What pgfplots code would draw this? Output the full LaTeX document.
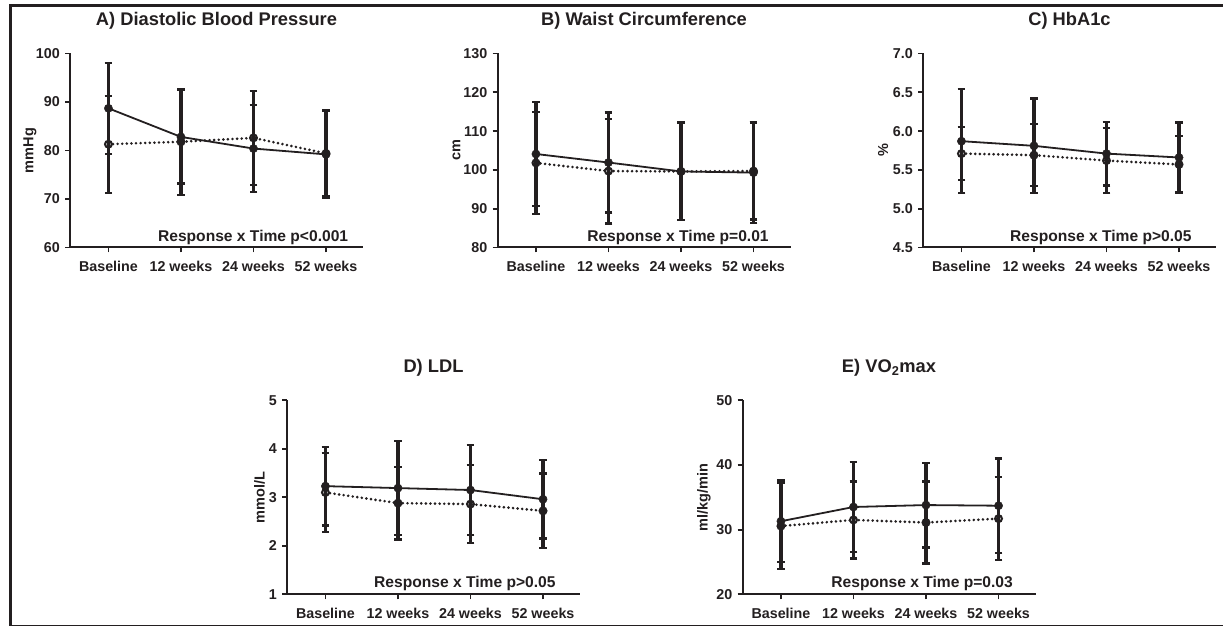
\documentclass[border=0pt]{standalone}
\usepackage{pgfplots}
\pgfplotsset{compat=1.18}
\usepackage{fontspec}
\setmainfont{Liberation Sans}
\definecolor{ink}{RGB}{35,31,32}
\tikzset{annot/.style={anchor=base, yshift=6.3pt, inner sep=0pt, text=ink, font=\bfseries\fontsize{15.6}{18}\selectfont}}
\pgfplotsset{
  panel/.style={
    scale only axis, width=293pt, height=194pt,
    xmin=-0.53, xmax=3.51, clip=false,
    axis lines=left, axis line style={-, line width=2pt, ink},
    xtick={0,1,2,3}, xticklabels={Baseline,12 weeks,24 weeks,52 weeks},
    tick align=outside, major tick length=5pt, tick style={line width=1.8pt, ink},
    /pgf/number format/assume math mode=true,
    tick label style={font=\bfseries\fontsize{14.3}{16}\selectfont, text=ink, inner sep=0pt},
    xticklabel style={anchor=base, yshift=-19pt},
    yticklabel style={anchor=east, xshift=-5pt},
    ylabel style={font=\bfseries\fontsize{14.5}{16}\selectfont, text=ink, anchor=center},
    title style={at={(0.5,1)}, anchor=base, yshift=21.8pt, font=\bfseries\fontsize{18.3}{21}\selectfont, text=ink},
  },
  solstyle/.style={ink, solid, line width=1.8pt, mark=*, mark size=4.1pt,
    mark options={fill=ink, line width=0.5pt, solid},
    error bars/.cd, y dir=both, y explicit,
    error bar style={line width=3.2pt, ink, solid, line cap=butt},
    error mark options={rotate=90, ink, solid, line width=2.2pt, mark size=3.8pt, line cap=butt}},
  dotstyle/.style={ink, line width=2.9pt, dash pattern=on 0pt off 4.6pt, line cap=round,
    mark=o, mark size=3.4pt, mark options={solid, line width=2.1pt, fill=none},
    error bars/.cd, y dir=both, y explicit,
    error bar style={line width=3.2pt, ink, solid, line cap=butt},
    error mark options={rotate=90, ink, solid, line width=2.2pt, mark size=3.8pt, line cap=butt}},
}
\begin{document}
\begin{tikzpicture}[x=1pt,y=1pt]
\useasboundingbox (0,0) rectangle (1223,626);
\draw[ink, line width=2.7pt] (10.3,-5) -- (10.3,620.3) -- (1240,620.3);
\draw[ink, line width=2.6pt] (10.3,0) -- (1240,0);

% A
\begin{axis}[panel, at={(70pt,378.5pt)}, anchor=south west,
  ymin=60, ymax=100, ytick={60,70,80,90,100},
  ylabel={mmHg}, ylabel style={at={(axis description cs:-0.1365,0.5)}},
  title={A) Diastolic Blood Pressure}]
\addplot[dotstyle] table[x index=0, y index=1, y error index=2] {
0 81.3 10.0
1 81.8 10.9
2 82.6 9.7
3 79.4 8.9
};
\addplot[solstyle] table[x index=0, y index=1, y error index=2] {
0 88.7 9.4
1 82.8 9.6
2 80.4 8.9
3 79.2 9.0
};
\node[annot] at (axis description cs:0.625,0) {Response x Time p<0.001};
\end{axis}

% B
\begin{axis}[panel, at={(497.5pt,378.5pt)}, anchor=south west,
  ymin=80, ymax=130, ytick={80,90,100,110,120,130},
  ylabel={cm}, ylabel style={at={(axis description cs:-0.14,0.5)}},
  title={B) Waist Circumference}]
\addplot[dotstyle] table[x index=0, y index=1, y error index=2] {
0 101.8 13.1
1 99.7 13.5
2 99.6 12.5
3 99.7 12.5
};
\addplot[solstyle] table[x index=0, y index=1, y error index=2] {
0 104.1 13.5
1 101.9 12.9
2 99.6 12.6
3 99.3 12.9
};
\node[annot] at (axis description cs:0.616,0) {Response x Time p=0.01};
\end{axis}

% C
\begin{axis}[panel, at={(923pt,378.5pt)}, anchor=south west,
  ymin=4.5, ymax=7.0, ytick={4.5,5.0,5.5,6.0,6.5,7.0},
  yticklabel style={/pgf/number format/.cd, fixed, fixed zerofill, precision=1},
  ylabel={\%}, ylabel style={at={(axis description cs:-0.1365,0.5)}},
  title={C) HbA1c}]
\addplot[dotstyle] table[x index=0, y index=1, y error index=2] {
0 5.71 0.34
1 5.69 0.40
2 5.62 0.42
3 5.57 0.37
};
\addplot[solstyle] table[x index=0, y index=1, y error index=2] {
0 5.87 0.67
1 5.81 0.61
2 5.71 0.41
3 5.66 0.45
};
\node[annot] at (axis description cs:0.607,0) {Response x Time p>0.05};
\end{axis}

% D
\begin{axis}[panel, at={(287pt,31.7pt)}, anchor=south west,
  ymin=1, ymax=5, ytick={1,2,3,4,5},
  ylabel={mmol/L}, ylabel style={at={(axis description cs:-0.094,0.5)}},
  title={D) LDL}]
\addplot[dotstyle] table[x index=0, y index=1, y error index=2] {
0 3.10 0.82
1 2.88 0.75
2 2.86 0.81
3 2.72 0.77
};
\addplot[solstyle] table[x index=0, y index=1, y error index=2] {
0 3.23 0.81
1 3.19 0.97
2 3.15 0.93
3 2.96 0.81
};
\node[annot] at (axis description cs:0.607,0) {Response x Time p>0.05};
\end{axis}

% E
\begin{axis}[panel, at={(742.5pt,31.7pt)}, anchor=south west,
  ymin=20, ymax=50, ytick={20,30,40,50},
  ylabel={ml/kg/min}, ylabel style={at={(axis description cs:-0.132,0.5)}},
  title={E) VO\textsubscript{2}max}]
\addplot[dotstyle] table[x index=0, y index=1, y error index=2] {
0 30.55 6.6
1 31.5 5.95
2 31.1 6.35
3 31.7 6.4
};
\addplot[solstyle] table[x index=0, y index=1, y error index=2] {
0 31.3 6.3
1 33.5 7.0
2 33.8 6.55
3 33.7 7.3
};
\node[annot] at (axis description cs:0.613,0) {Response x Time p=0.03};
\end{axis}
\end{tikzpicture}
\end{document}
